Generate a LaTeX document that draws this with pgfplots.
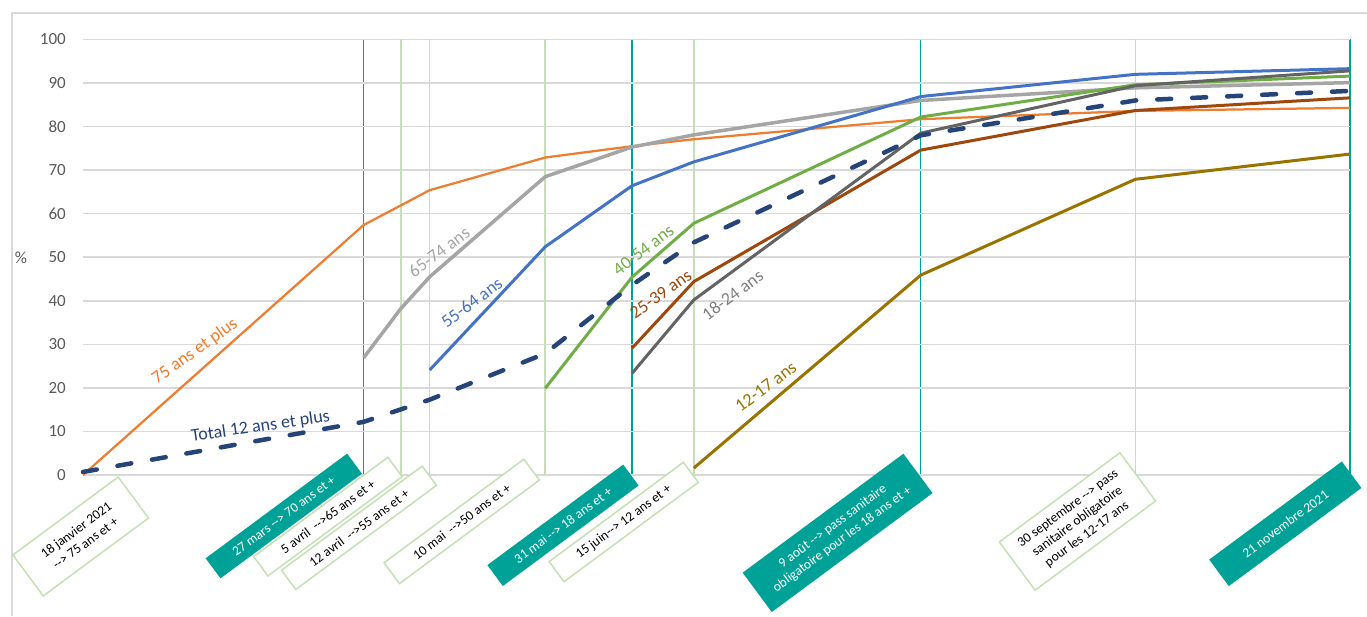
\documentclass[border=0pt]{standalone}
\usepackage{fontspec}
\setmainfont{Carlito}
\usepackage{pgfplots}
\pgfplotsset{compat=1.18}
\definecolor{cOr}{HTML}{ED7D31}
\definecolor{cLg}{HTML}{A5A5A5}
\definecolor{cBl}{HTML}{4472C4}
\definecolor{cGr}{HTML}{70AD47}
\definecolor{cNv}{HTML}{264478}
\definecolor{cBr}{HTML}{9E480E}
\definecolor{cDg}{HTML}{636363}
\definecolor{cDgT}{HTML}{7F7F7F}
\definecolor{cOl}{HTML}{997300}
\definecolor{cTeal}{RGB}{0,162,152}
\definecolor{cLgreen}{HTML}{C5E0B4}
\definecolor{cGrid}{HTML}{D9D9D9}
\definecolor{cTick}{HTML}{595959}
\newcommand{\arr}{-{}-{}>}
\begin{document}
\begin{tikzpicture}[x=1pt,y=1pt]
\useasboundingbox (0,0) rectangle (1367,616);
\draw[color=cGrid, line width=2pt] (12,0) -- (12,603) -- (1367,603);
\begin{axis}[
  at={(83pt,141pt)}, anchor=south west,
  scale only axis, width=1267pt, height=435.5pt,
  xmin=18, xmax=325, ymin=0, ymax=100,
  clip=false,
  axis line style={draw=none},
  major tick length=0pt,
  xtick={86,151,221,325}, xticklabels={},
  extra x ticks={95,102,130,166,273}, extra x tick labels={},
  extra x tick style={major x grid style={color=cLgreen, line width=1.5pt}},
  ytick={0,10,...,100},
  xmajorgrids, ymajorgrids,
  major x grid style={color=cTeal, line width=1.2pt},
  major y grid style={color=cGrid, line width=1.5pt},
  /pgf/number format/assume math mode=true,
  yticklabel style={font=\fontsize{17}{20}\selectfont, color=cTick, anchor=east, inner sep=0pt, xshift=-17pt},
]
\addplot[color=cOr, line width=2.25pt] coordinates {(18,0) (86,57.4) (102,65.4) (130,72.9) (151,75.5) (166,77.1) (221,81.7) (273,83.6) (325,84.3)};
\addplot[color=cLg, line width=3.5pt] coordinates {(86,26.9) (95,38.2) (102,45.5) (130,68.5) (151,75.3) (166,78.1) (221,86.0) (273,88.9) (325,90.1)};
\addplot[color=cBl, line width=3pt] coordinates {(102,24.1) (130,52.4) (151,66.4) (166,71.9) (221,86.9) (273,92.0) (325,93.3)};
\addplot[color=cGr, line width=3pt] coordinates {(130,19.9) (151,45.4) (166,57.8) (221,82.2) (273,89.6) (325,91.6)};
\addplot[color=cBr, line width=3pt] coordinates {(151,29.1) (166,44.4) (221,74.6) (273,83.7) (325,86.6)};
\addplot[color=cDg, line width=3pt] coordinates {(151,23.3) (166,40.2) (221,78.5) (273,89.4) (325,92.8)};
\addplot[color=cOl, line width=3pt] coordinates {(166,1.6) (221,45.9) (273,67.9) (325,73.7)};
\addplot[color=cNv, line width=4.5pt, line cap=round, dash pattern=on 14pt off 21pt] coordinates {(18,0.7) (86,12.2) (102,17.3) (130,27.9) (151,43.6) (166,53.4) (221,78.0) (273,86.0) (325,88.2)};
\end{axis}
% y label
\node[color=cTick, font=\fontsize{17}{20}\selectfont] at (21,358) {\%};
% inline labels
\begin{scope}[every node/.style={font=\fontsize{18}{21}\selectfont, inner sep=0pt}]
\node[color=cOr, rotate=35.7] at (195,264.3) {75 ans et plus};
\node[color=cNv, rotate=8.4] at (260.5,189.3) {Total 12 ans et plus};
\node[color=cLg, rotate=36.6] at (439,364) {65-74 ans};
\node[color=cBl, rotate=36.9] at (471.7,313.5) {55-64 ans};
\node[color=cGr, rotate=37.4] at (643.3,366) {40-54 ans};
\node[color=cBr, rotate=35.6] at (660.8,322) {25-39 ans};
\node[color=cDgT, rotate=36.6] at (732.5,321) {18-24 ans};
\node[color=cOl, rotate=36.6] at (765.8,229.3) {12-17 ans};
\end{scope}
% date boxes
\begin{scope}[every node/.style={rotate=36.5, inner sep=0pt, align=center, font=\fontsize{13.5}{16}\selectfont},
  wb/.style={draw=cLgreen, fill=white, line width=1.5pt, text=black},
  tb/.style={fill=cTeal, text=white}]
\node[wb, minimum width=131pt, minimum height=51pt] at (80.7,79.5) {18 janvier 2021\\\arr{} 75 ans et +};
\node[tb, minimum width=176pt, minimum height=25pt] at (283.8,100) {27 mars \arr{} 70 ans et +};
\node[wb, minimum width=167pt, minimum height=24pt] at (327.9,99.4) {5 avril \ \arr 65 ans et +};
\node[wb, minimum width=175pt, minimum height=24pt] at (359,88.2) {12 avril \ \arr 55 ans et +};
\node[wb, minimum width=174pt, minimum height=26pt] at (461.7,94.6) {10 mai \ \arr 50 ans et +};
\node[tb, minimum width=169pt, minimum height=26pt] at (563,90.7) {31 mai \arr{} 18 ans et +};
\node[wb, minimum width=167pt, minimum height=25pt] at (623.7,94) {15 juin\arr{} 12 ans et +};
\node[tb, minimum width=200pt, minimum height=49pt] at (837.6,83.1) {9 août \arr{} pass sanitaire\\obligatoire pour les 18 ans et +};
\node[wb, minimum width=150pt, minimum height=60pt] at (1077.5,94.5) {30 septembre \arr{} pass\\sanitaire obligatoire\\pour les 12-17 ans};
\node[tb, minimum width=165pt, minimum height=33pt] at (1285.3,92.2) {21 novembre 2021};
\end{scope}
\end{tikzpicture}
\end{document}
